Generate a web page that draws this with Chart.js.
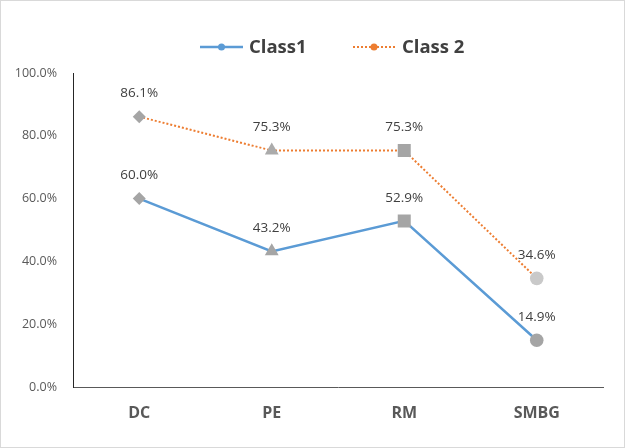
<!DOCTYPE html>
<html>
<head>
<meta charset="utf-8">
<script src="https://cdn.jsdelivr.net/npm/chart.js@4/dist/chart.umd.min.js"></script>
<style>
  html, body { margin: 0; padding: 0; background: #fff; }
  canvas { display: block; }
</style>
</head>
<body>
<canvas id="c" width="625" height="448"></canvas>
<script>
const categories = ['DC', 'PE', 'RM', 'SMBG'];
const class1Values = [60.0, 43.2, 52.9, 14.9];
const class2Values = [86.1, 75.3, 75.3, 34.6];
const seriesNames = ['Class1', 'Class 2'];
const yTickValues = [0, 20, 40, 60, 80, 100];

const FONT = "'Open Sans', 'Liberation Sans', sans-serif";

const dataLabelPlugin = {
  id: 'dataLabels',
  afterDatasetsDraw(chart) {
    const ctx = chart.ctx;
    ctx.save();
    ctx.font = '13.5px ' + FONT;
    ctx.fillStyle = '#404040';
    ctx.textAlign = 'center';
    ctx.textBaseline = 'middle';
    chart.data.datasets.forEach((ds, di) => {
      const meta = chart.getDatasetMeta(di);
      meta.data.forEach((pt, i) => {
        ctx.fillText(ds.data[i].toFixed(1) + '%', pt.x, pt.y - 23);
      });
    });
    ctx.restore();
  }
};

const legendAndFramePlugin = {
  id: 'legendFrame',
  afterDraw(chart) {
    const ctx = chart.ctx;
    ctx.save();
    ctx.strokeStyle = '#D9D9D9';
    ctx.lineWidth = 1;
    ctx.strokeRect(0.5, 0.5, chart.width - 1, chart.height - 1);
    const y = 47;
    const items = [
      { x0: 200, x1: 243, tx: 249, color: '#5B9BD5', dash: [], w: 2.5, label: seriesNames[0] },
      { x0: 353, x1: 395, tx: 402, color: '#ED7D31', dash: [2, 2], w: 2, label: seriesNames[1] }
    ];
    items.forEach(it => {
      ctx.beginPath();
      ctx.setLineDash(it.dash);
      ctx.strokeStyle = it.color;
      ctx.lineWidth = it.w;
      ctx.moveTo(it.x0, y);
      ctx.lineTo(it.x1, y);
      ctx.stroke();
      ctx.setLineDash([]);
      ctx.beginPath();
      ctx.fillStyle = it.color;
      ctx.arc((it.x0 + it.x1) / 2, y, 3.5, 0, Math.PI * 2);
      ctx.fill();
      ctx.font = 'bold 18.5px ' + FONT;
      ctx.fillStyle = '#404040';
      ctx.textAlign = 'left';
      ctx.textBaseline = 'middle';
      ctx.fillText(it.label, it.tx, y + 1);
    });
    ctx.restore();
  }
};

new Chart(document.getElementById('c'), {
  type: 'line',
  data: {
    labels: categories,
    datasets: [
      {
        label: seriesNames[0],
        data: class1Values,
        borderColor: '#5B9BD5',
        borderWidth: 2.5,
        pointStyle: ['rectRot', 'triangle', 'rect', 'circle'],
        pointRadius: [6.5, 8, 9.2, 6.8],
        pointBackgroundColor: ['#A5A5A5', '#A5A5A5', '#A5A5A5', '#A5A5A5'],
        pointBorderWidth: 0,
        tension: 0
      },
      {
        label: seriesNames[1],
        data: class2Values,
        borderColor: '#ED7D31',
        borderWidth: 2,
        borderDash: [2, 2],
        pointStyle: ['rectRot', 'triangle', 'rect', 'circle'],
        pointRadius: [6.5, 8, 9.2, 6.8],
        pointBackgroundColor: ['#A5A5A5', '#ABABAB', '#A5A5A5', '#C9C9C9'],
        pointBorderWidth: 0,
        tension: 0
      }
    ]
  },
  options: {
    responsive: false,
    animation: false,
    layout: { padding: { top: 73, right: 22, left: 0, bottom: 0 } },
    plugins: {
      legend: { display: false },
      tooltip: { enabled: false }
    },
    scales: {
      x: {
        offset: true,
        grid: { display: false, drawTicks: false },
        border: { display: true, color: '#595959', width: 1 },
        ticks: {
          padding: 17,
          color: '#595959',
          font: { family: FONT, size: 16, weight: 'bold' }
        },
        afterFit(s) { s.height = 61; }
      },
      y: {
        min: 0,
        max: 100,
        afterBuildTicks(s) { s.ticks = yTickValues.map(v => ({ value: v })); },
        grid: { display: false, drawTicks: false },
        border: { display: true, color: '#262626', width: 1 },
        ticks: {
          padding: 16,
          color: '#595959',
          font: { family: FONT, size: 12.5 },
          callback: v => v.toFixed(1) + '%'
        },
        afterFit(s) { s.width = 73; }
      }
    }
  },
  plugins: [dataLabelPlugin, legendAndFramePlugin]
});
</script>
</body>
</html>
